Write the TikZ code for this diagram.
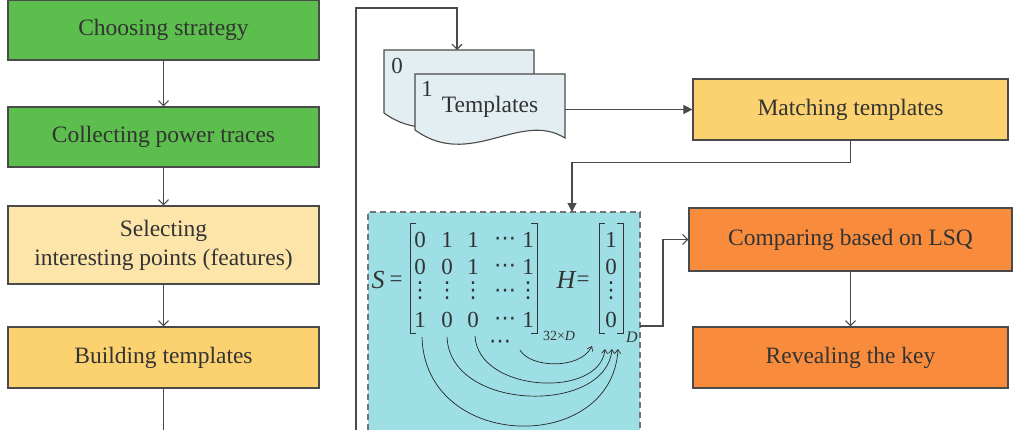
\documentclass[tikz,border=0pt]{standalone}
\usepackage{fontspec}
\setmainfont{Liberation Serif}
\newfontfamily\dvs{DejaVu Sans}
\usetikzlibrary{arrows.meta}
\definecolor{cgreen}{HTML}{5CBE4C}
\definecolor{cpale}{HTML}{FDE5AA}
\definecolor{cyel}{HTML}{FBD26F}
\definecolor{corange}{HTML}{F88C3C}
\definecolor{ccyan}{HTML}{9DDFE5}
\definecolor{cdoc}{HTML}{E2EEF1}
\definecolor{cline}{HTML}{4A4A4A}
\definecolor{ctext}{HTML}{333333}
\tikzset{
  box/.style={draw=cline, line width=1.2pt, minimum width=311pt, minimum height=60pt, inner sep=0pt, align=center, text=ctext, font=\fontsize{23.5}{29}\selectfont},
  conn/.style={draw=cline, line width=1.1pt},
  openarr/.style={conn, -{Straight Barb[length=5pt,width=10pt]}},
  fillarr/.style={conn, -{Triangle[length=9pt,width=9pt]}},
  thinarr/.style={draw=black!85, line width=0.7pt, -{Straight Barb[length=4pt,width=6pt]}},
  ent/.style={inner sep=0pt, text=ctext, font=\fontsize{23}{24}\selectfont},
  vd/.style={inner sep=0pt, text=ctext, font=\dvs\fontsize{22}{22}\selectfont},
  brk/.style={draw=black!80, line width=0.9pt}
}
\begin{document}
\begin{tikzpicture}[x=1pt,y=-1pt]
\useasboundingbox (0,0) rectangle (1015,429);
\clip (0,0) rectangle (1015,429);
\fill[white] (0,0) rectangle (1015,429);

% left column
\node[box, fill=cgreen] (b1) at (163.5,30) {Choosing strategy};
\node[box, fill=cgreen] (b2) at (163.5,137) {Collecting power traces};
\node[box, fill=cpale, minimum height=78pt] (b3) at (163.5,245) {Selecting\\interesting points (features)};
\node[box, fill=cyel, minimum height=61pt] (b4) at (163.5,357.5) {Building templates};
\draw[openarr] (b1) -- (b2);
\draw[openarr] (b2) -- (b3);
\draw[openarr] (b3) -- (b4);
\coordinate (b4out) at (163.5,432);
\draw[conn] (b4) -- (b4out);

% cyan box
\fill[ccyan] (368,212) rectangle (640,440);
\draw[draw=black!55, line width=1.2pt, dash pattern=on 6pt off 4pt] (368,440) -- (368,212) -- (640,212) -- (640,440);
\coordinate (cyantop) at (572,212);
\coordinate (cyanout) at (640,326);

% templates documents
\draw[cline, line width=1.1pt, fill=cdoc] (384,50) -- (534,50) -- (534,121) .. controls (489,93) and (439,153) .. (384,113) -- cycle;
\draw[cline, line width=1.1pt, fill=cdoc] (415,74) -- (565,74) -- (565,138) .. controls (520,110) and (470,170) .. (415,130) -- cycle;
\node[ent] (t0) at (397,66) {0};
\node[ent] (t1) at (427,89) {1};
\node[ent, font=\fontsize{23.5}{24}\selectfont] (tmpl) at (490,107) {Templates};
\coordinate (docr) at (565,109.5);
\coordinate (doctop) at (457,50);

% loop line
\coordinate (loopb) at (356,432);
\coordinate (loopt) at (356,8);
\draw[openarr] (loopb) -- (loopt) -| (doctop);

% right column
\node[box, fill=cyel, minimum width=315pt, minimum height=61pt] (m) at (850.5,109.5) {Matching templates};
\node[box, fill=corange, minimum width=323pt, minimum height=63pt] (c) at (850.5,239.5) {Comparing based on LSQ};
\node[box, fill=corange, minimum width=315pt, minimum height=61pt] (r) at (850.5,357.5) {Revealing the key};
\draw[fillarr] (docr) -- (m.west);
\draw[fillarr] (m.south) -- ++(0,22) -| (cyantop);
\draw[openarr] (c) -- (r);
\draw[openarr] (cyanout) -- (663,326) |- (c.west);

% matrix S
\node[ent, font=\fontsize{26}{26}\selectfont\itshape] (S) at (378,280) {S};
\node[ent] (Seq) at (396,281) {=};
\draw[brk] (416,223) -- (410,223) -- (410,333) -- (416,333);
\draw[brk] (531,223) -- (537,223) -- (537,333) -- (531,333);
\foreach \r/\y/\a/\b/\c in {1/240/0/1/1, 2/267/0/0/1, 4/320/1/0/0} {
  \node[ent] (s\r a) at (420,\y) {\a};
  \node[ent] (s\r b) at (447,\y) {\b};
  \node[ent] (s\r c) at (473,\y) {\c};
  \node[vd] (s\r d) at (505,\y+1) {⋯};
  \node[ent] (s\r e) at (528,\y) {1};
}
\foreach \x/\n in {420/a,447/b,473/c,528/e} {
  \node[vd] (s3\n) at (\x,291) {⋮};
}
\node[vd] (s3d) at (505,293) {⋯};
\node[ent, font=\fontsize{14}{14}\selectfont] (sub1) at (559,336) {32×\textit{D}};

% vector H
\node[ent, font=\fontsize{26}{26}\selectfont\itshape] (H) at (566,280) {H};
\node[ent] (Heq) at (583,281) {=};
\draw[brk] (605,223) -- (599,223) -- (599,333) -- (605,333);
\draw[brk] (617,223) -- (623,223) -- (623,333) -- (617,333);
\node[ent] (h1) at (611,240) {1};
\node[ent] (h2) at (611,267) {0};
\node[vd] (h3) at (611,291) {⋮};
\node[ent] (h4) at (611,320) {0};
\node[ent, font=\fontsize{16}{16}\selectfont\itshape] (sub2) at (632,337) {D};
\node[vd] (dots) at (500,344) {⋯};

% arcs
\coordinate (a1s) at (422,337); \coordinate (a1e) at (618,349);
\coordinate (a2s) at (447,337); \coordinate (a2e) at (612,349);
\coordinate (a3s) at (475,336); \coordinate (a3e) at (605,349);
\coordinate (a4s) at (520,350); \coordinate (a4e) at (592,346);
\draw[thinarr] (a1s) .. controls (425,452) and (612,455) .. (a1e);
\draw[thinarr] (a2s) .. controls (450,412) and (606,415) .. (a2e);
\draw[thinarr] (a3s) .. controls (478,393) and (600,399) .. (a3e);
\draw[thinarr] (a4s) .. controls (530,368) and (580,370) .. (a4e);
\end{tikzpicture}
\end{document}
